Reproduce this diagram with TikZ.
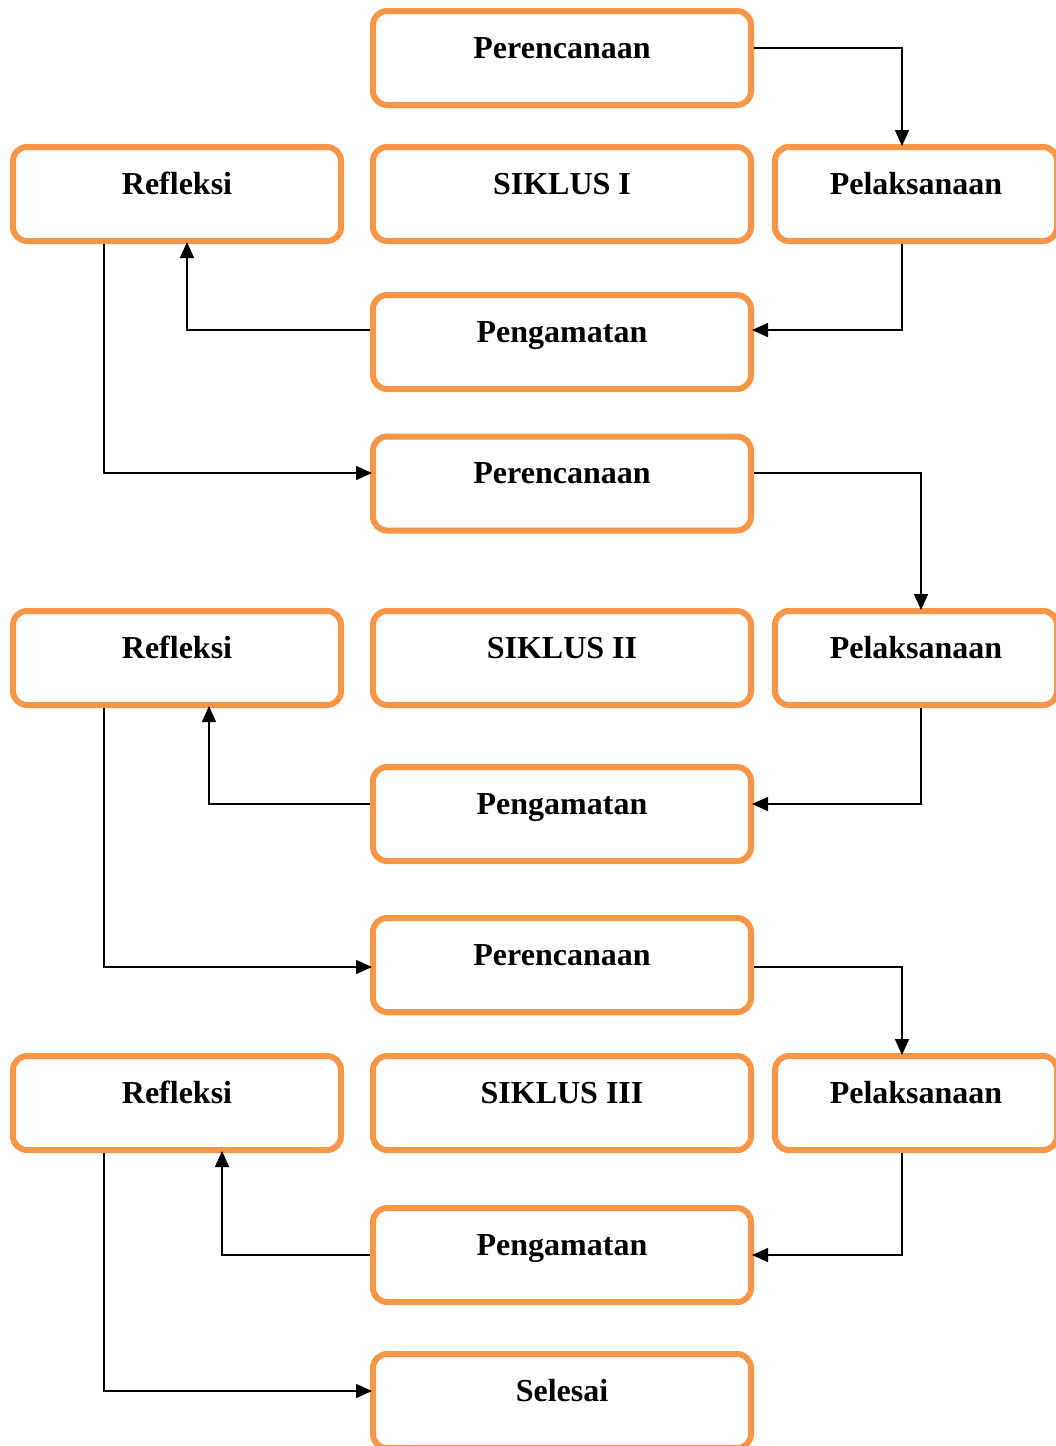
\documentclass[tikz,border=0pt]{standalone}
\usepackage{fontspec}
\setmainfont{Liberation Serif}
\usetikzlibrary{arrows.meta}
\definecolor{orng}{HTML}{F79646}
\begin{document}
\begin{tikzpicture}[x=1pt,y=-1pt,
  box/.style={draw=orng, line width=6pt, rounded corners=14pt, minimum height=94pt,
    font=\bfseries\fontsize{32}{38}\selectfont, text height=22pt, text depth=22pt, inner sep=0pt},
  wide/.style={box, minimum width=378pt},
  side/.style={box, minimum width=328pt},
  rside/.style={box, minimum width=282pt},
  arr/.style={line width=1.5pt, shorten >=-2pt, -{Triangle[length=16pt,width=14pt]}}]
\clip (0,0) rectangle (1056,1446);
\fill[white] (0,0) rectangle (1056,1446);
% cycle I
\node[wide]  (p1)   at (562,58)   {Perencanaan};
\node[side]  (ref1) at (177,194)  {Refleksi};
\node[wide]  (s1)   at (562,194)  {SIKLUS I};
\node[rside] (pl1)  at (916,194)  {Pelaksanaan};
\node[wide]  (pg1)  at (562,342)  {Pengamatan};
% cycle II
\node[wide]  (p2)   at (562,483.5) {Perencanaan};
\node[side]  (ref2) at (177,658)  {Refleksi};
\node[wide]  (s2)   at (562,658)  {SIKLUS II};
\node[rside] (pl2)  at (916,658)  {Pelaksanaan};
\node[wide]  (pg2)  at (562,814)  {Pengamatan};
% cycle III
\node[wide]  (p3)   at (562,965)  {Perencanaan};
\node[side]  (ref3) at (177,1103) {Refleksi};
\node[wide]  (s3)   at (562,1103) {SIKLUS III};
\node[rside] (pl3)  at (916,1103) {Pelaksanaan};
\node[wide]  (pg3)  at (562,1255) {Pengamatan};
\node[wide]  (sel)  at (562,1401) {Selesai};
% connectors
\draw[arr] ([yshift=10pt]p1.east) -| ([xshift=-14pt]pl1.north);
\draw[arr] ([xshift=-14pt]pl1.south) |- ([yshift=12pt]pg1.east);
\draw[arr] ([yshift=12pt]pg1.west) -| ([xshift=10pt]ref1.south);
\draw[arr] ([xshift=-73pt]ref1.south) |- ([yshift=10.5pt]p2.west);
\draw[arr] ([yshift=10.5pt]p2.east) -| ([xshift=5pt]pl2.north);
\draw[arr] ([xshift=5pt]pl2.south) |- ([yshift=10pt]pg2.east);
\draw[arr] ([yshift=10pt]pg2.west) -| ([xshift=32pt]ref2.south);
\draw[arr] ([xshift=-73pt]ref2.south) |- ([yshift=-2pt]p3.west);
\draw[arr] ([yshift=-2pt]p3.east) -| ([xshift=-14pt]pl3.north);
\draw[arr] ([xshift=-14pt]pl3.south) |- (pg3.east);
\draw[arr] (pg3.west) -| ([xshift=45pt]ref3.south);
\draw[arr] ([xshift=-73pt]ref3.south) |- ([yshift=10pt]sel.west);
\end{tikzpicture}
\end{document}
